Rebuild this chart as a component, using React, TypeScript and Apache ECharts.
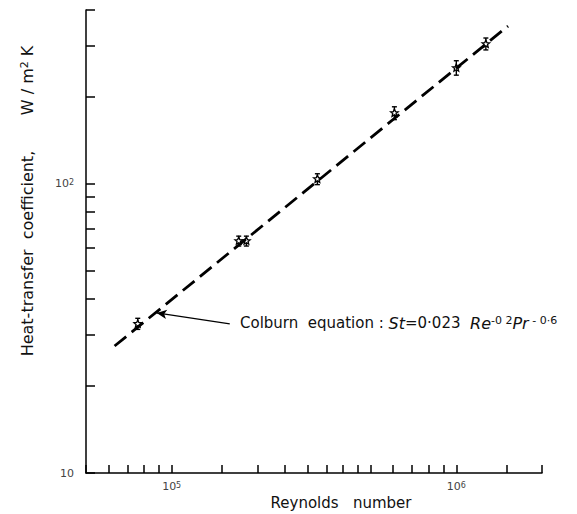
import React, { useEffect, useRef } from "react";
import * as echarts from "echarts";

// Measured heat-transfer coefficients (W/m^2K) vs Reynolds number
const reynolds = [7.6e4, 1.72e5, 1.83e5, 3.25e5, 6.06e5, 1.0e6, 1.27e6];
const hValues = [32.8, 63.5, 63.5, 104, 176, 252, 305];
const hLow = [31.4, 61, 61, 99.5, 167, 238, 291];
const hHigh = [34.3, 66, 66, 108.5, 185, 267, 320];

// Colburn equation line end points
const colburnRe = [6.3e4, 1.52e6];
const colburnH = [27.5, 352];

// Annotation arrow (tail -> head)
const arrowFrom = [1.6e5, 32.8];
const arrowTo = [8.86e4, 35.8];

// Axes
const xMin = 5e4;
const xMax = 2e6;
const yMin = 10;
const yMax = 400;
const xTicks = [5e4, 6e4, 7e4, 8e4, 9e4, 1e5, 1.5e5, 2e5, 2.5e5, 3e5, 3.5e5, 4e5, 4.5e5, 5e5, 6e5, 7e5, 8e5, 9e5, 1e6, 1.5e6, 2e6];
const yTicks = [10, 20, 30, 40, 50, 60, 70, 80, 90, 100, 200, 300, 400];
const xLabels = [1e5, 1e6];
const yLabels = [10, 100];

const FONT = "DejaVu Sans";

function powLabel(v: number) {
  const e = Math.round(Math.log10(v));
  if (e === 1) return "10";
  return "10{sup|" + e + "}";
}

export default function App() {
  const ref = useRef<HTMLDivElement>(null);
  useEffect(() => {
    if (!ref.current) return;
    const chart = echarts.init(ref.current, null, { renderer: "svg" });
    const pts = reynolds.map((x, i) => [x, hValues[i], hLow[i], hHigh[i]]);
    const labelRich = {
      sup: { fontSize: 8, verticalAlign: "top", lineHeight: 8, fontFamily: FONT, color: "#444" },
    };
    chart.setOption({
      animation: false,
      backgroundColor: "#fff",
      textStyle: { fontFamily: FONT },
      grid: { left: 86, right: 35, top: 10, bottom: 41 },
      xAxis: {
        type: "log",
        logBase: 10,
        min: xMin,
        max: xMax,
        axisLine: { lineStyle: { color: "#000", width: 1.5 } },
        axisTick: { show: true, inside: true, length: 8, customValues: xTicks, lineStyle: { color: "#000", width: 1.5 } },
        minorTick: { show: false },
        splitLine: { show: false },
        axisLabel: {
          customValues: xLabels,
          formatter: (v: number) => powLabel(v),
          color: "#444",
          fontSize: 11,
          margin: 8,
          fontFamily: FONT,
          rich: labelRich,
        },
      },
      yAxis: {
        type: "log",
        logBase: 10,
        min: yMin,
        max: yMax,
        axisLine: { lineStyle: { color: "#000", width: 1.5 } },
        axisTick: { show: true, inside: true, length: 9, customValues: yTicks, lineStyle: { color: "#000", width: 1.5 } },
        minorTick: { show: false },
        splitLine: { show: false },
        axisLabel: {
          customValues: yLabels,
          formatter: (v: number) => powLabel(v),
          color: "#444",
          fontSize: 11,
          margin: 12,
          fontFamily: FONT,
          rich: labelRich,
        },
      },
      graphic: [
        {
          type: "text",
          x: 27,
          y: 201,
          rotation: Math.PI / 2,
          style: {
            text: "Heat-transfer  coefficient,       W / m{sup|2} K",
            align: "center",
            verticalAlign: "middle",
            fontFamily: FONT,
            fontSize: 16,
            fill: "#111",
            rich: {
              sup: { fontSize: 11, verticalAlign: "top", lineHeight: 11, fontFamily: FONT, fill: "#111" },
            },
          },
        },
        {
          type: "text",
          x: 341,
          y: 503,
          style: {
            text: "Reynolds   number",
            align: "center",
            verticalAlign: "middle",
            fontFamily: FONT,
            fontSize: 15,
            fill: "#111",
          },
        },
        {
          type: "text",
          x: 240,
          y: 323,
          style: {
            text: "Colburn  equation : {it|St}=0·023  {it|Re}{sup|-0 2}{it|Pr}{sup| - 0·6}",
            align: "left",
            verticalAlign: "middle",
            fontFamily: FONT,
            fontSize: 15,
            fill: "#111",
            rich: {
              it: { fontStyle: "italic", fontSize: 16, fontFamily: FONT, fill: "#111" },
              sup: { fontSize: 11, verticalAlign: "top", lineHeight: 11, fontFamily: FONT, fill: "#111" },
            },
          },
        },
      ],
      series: [
        {
          type: "line",
          data: colburnRe.map((x, i) => [x, colburnH[i]]),
          symbol: "none",
          lineStyle: { color: "#000", width: 2.8, type: [15, 7] },
          silent: true,
          markLine: {
            silent: true,
            symbol: ["none", "arrow"],
            symbolSize: [7, 10],
            label: { show: false },
            lineStyle: { color: "#000", width: 1.2, type: "solid" },
            data: [[{ coord: arrowFrom }, { coord: arrowTo }]],
          },
        },
        {
          type: "custom",
          data: pts,
          encode: { x: 0, y: 1 },
          renderItem: (params: any, api: any) => {
            const x = api.value(0);
            const p = api.coord([x, api.value(1)]);
            const lo = api.coord([x, api.value(2)]);
            const hi = api.coord([x, api.value(3)]);
            const r = 4;
            const pts5: number[][] = [];
            for (let k = 0; k < 10; k++) {
              const ang = -Math.PI / 2 + (k * Math.PI) / 5;
              const rr = k % 2 === 0 ? r : r * 0.45;
              pts5.push([p[0] + rr * Math.cos(ang), p[1] + rr * Math.sin(ang)]);
            }
            const st = { stroke: "#000", lineWidth: 1.4, fill: "none" };
            return {
              type: "group",
              children: [
                { type: "line", shape: { x1: p[0], y1: lo[1], x2: p[0], y2: hi[1] }, style: st },
                { type: "line", shape: { x1: p[0] - 2.5, y1: lo[1], x2: p[0] + 2.5, y2: lo[1] }, style: st },
                { type: "line", shape: { x1: p[0] - 2.5, y1: hi[1], x2: p[0] + 2.5, y2: hi[1] }, style: st },
                { type: "polygon", shape: { points: pts5 }, style: { stroke: "#000", lineWidth: 1.3, fill: "#fff" } },
              ],
            };
          },
        },
      ],
    });
    return () => chart.dispose();
  }, []);
  return <div ref={ref} style={{ position: "fixed", left: 0, top: 0, width: 577, height: 514 }} />;
}
